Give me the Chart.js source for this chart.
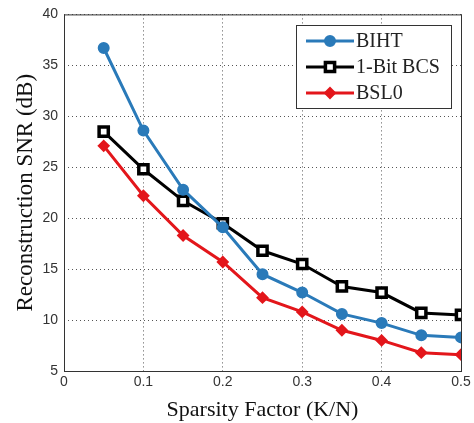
<!DOCTYPE html>
<html>
<head>
<meta charset="utf-8">
<script src="https://cdn.jsdelivr.net/npm/chart.js@4"></script>
<style>
  html, body { margin: 0; padding: 0; background: #fff; }
  #wrap { width: 474px; height: 423px; }
</style>
</head>
<body>
<div id="wrap"><canvas id="snrChart" width="474" height="423"></canvas></div>
<script>
const sparsity = [0.05, 0.1, 0.15, 0.2, 0.25, 0.3, 0.35, 0.4, 0.45, 0.5];
const bihtSnr = [36.7, 28.6, 22.8, 19.1, 14.5, 12.7, 10.6, 9.7, 8.5, 8.3];
const bcsSnr = [28.5, 24.8, 21.7, 19.5, 16.8, 15.5, 13.3, 12.7, 10.7, 10.5];
const bsl0Snr = [27.1, 22.2, 18.3, 15.7, 12.2, 10.8, 9.0, 8.0, 6.8, 6.6];
const seriesNames = ['BIHT', '1-Bit BCS', 'BSL0'];

const toPoints = vals => sparsity.map((x, i) => ({ x, y: vals[i] }));

// box around the plot + legend drawn MATLAB style
const boxLegend = {
  id: 'boxLegend',
  afterDraw(chart) {
    const { ctx, chartArea: a } = chart;
    ctx.save();
    ctx.strokeStyle = '#333';
    ctx.lineWidth = 1;
    ctx.strokeRect(a.left + 0.5, a.top + 0.5, a.right - a.left, a.bottom - a.top);

    const bx = 296, by = 25, bw = 155, bh = 83;
    ctx.fillStyle = '#fff';
    ctx.fillRect(bx, by, bw, bh);
    ctx.strokeStyle = '#333';
    ctx.strokeRect(bx + 0.5, by + 0.5, bw, bh);

    ctx.font = '20px "Liberation Serif", serif';
    ctx.textBaseline = 'middle';
    chart.data.datasets.forEach((ds, i) => {
      const y = by + 16 + i * 26;
      ctx.strokeStyle = ds.borderColor;
      ctx.lineWidth = 3;
      ctx.beginPath();
      ctx.moveTo(bx + 10, y);
      ctx.lineTo(bx + 58, y);
      ctx.stroke();
      ctx.fillStyle = ds.pointBackgroundColor;
      ctx.strokeStyle = ds.pointBorderColor;
      ctx.lineWidth = ds.pointBorderWidth;
      Chart.helpers.drawPoint(ctx, {
        pointStyle: ds.pointStyle, radius: ds.pointRadius, borderWidth: ds.pointBorderWidth
      }, bx + 34, y);
      ctx.fillStyle = '#222';
      ctx.fillText(ds.label, bx + 60, y + 1);
    });
    ctx.restore();
  }
};

try {
  const ctx = document.getElementById('snrChart').getContext('2d');
  const mk = (label, vals, color, style, radius, fill, bw) => ({
    label,
    data: toPoints(vals),
    borderColor: color,
    backgroundColor: fill,
    borderWidth: 3,
    pointStyle: style,
    pointRadius: radius,
    pointBorderWidth: bw,
    pointBorderColor: color,
    pointBackgroundColor: fill,
    tension: 0
  });

  new Chart(ctx, {
    type: 'line',
    data: {
      datasets: [
        mk(seriesNames[0], bihtSnr, '#2a7ab9', 'circle', 5, '#2a7ab9', 2),
        mk(seriesNames[1], bcsSnr, '#000', 'rect', 6.5, '#fff', 3.5),
        mk(seriesNames[2], bsl0Snr, '#e3161b', 'rectRot', 5, '#e3161b', 2)
      ]
    },
    options: {
      responsive: false,
      animation: false,
      layout: { padding: { left: 0, right: 13, top: 11, bottom: 0 } },
      plugins: { legend: { display: false }, tooltip: { enabled: false } },
      scales: {
        x: {
          type: 'linear',
          min: 0,
          max: 0.5,
          afterFit: s => { s.height = 52; },
          ticks: {
            stepSize: 0.1,
            color: '#333',
            padding: 3,
            font: { family: '"Liberation Sans", Arial, sans-serif', size: 14 },
            callback: v => Number(v.toFixed(2)).toString()
          },
          grid: { color: '#555', drawTicks: false, lineWidth: 1 },
          border: { display: false, dash: [1, 3] },
          title: {
            display: true,
            text: 'Sparsity Factor (K/N)',
            color: '#111',
            padding: { top: 0, bottom: 0 },
            font: { family: '"Liberation Serif", "Times New Roman", serif', size: 22 }
          }
        },
        y: {
          min: 5,
          max: 40,
          afterFit: s => { s.width = 64; },
          ticks: {
            stepSize: 5,
            color: '#333',
            padding: 6,
            font: { family: '"Liberation Sans", Arial, sans-serif', size: 14 }
          },
          grid: { color: '#555', drawTicks: false, lineWidth: 1 },
          border: { display: false, dash: [1, 3] },
          title: {
            display: true,
            text: 'Reconstruction SNR (dB)',
            color: '#111',
            padding: { top: 12, bottom: 0 },
            font: { family: '"Liberation Serif", "Times New Roman", serif', size: 23 }
          }
        }
      }
    },
    plugins: [boxLegend]
  });
} catch (err) {
  console.error('Chart error:', err);
}
</script>
</body>
</html>
